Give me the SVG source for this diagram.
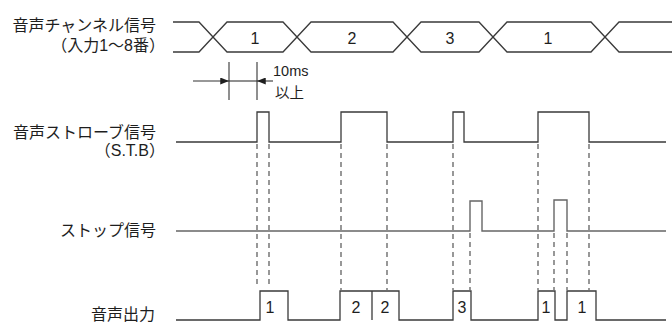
<svg xmlns="http://www.w3.org/2000/svg" width="672" height="324" viewBox="0 0 672 324">
<style>
  .lbl { font-family: "Liberation Sans", "Noto Sans CJK JP", sans-serif; font-size: 16px; fill: #1e1e1e; text-anchor: end; }
  .num { font-family: "Liberation Sans", "Noto Sans CJK JP", sans-serif; font-size: 16px; fill: #1e1e1e; text-anchor: middle; }
  .dim { font-family: "Liberation Sans", "Noto Sans CJK JP", sans-serif; font-size: 14.5px; fill: #1e1e1e; }
  .sig { fill: none; stroke: #3a3a3a; stroke-width: 1.3; }
  .stop { fill: none; stroke: #666; stroke-width: 1.4; }
  .dash { fill: none; stroke: #444; stroke-width: 1.1; stroke-dasharray: 5 4; }
  .thin { fill: none; stroke: #333; stroke-width: 1.1; }
</style>
<defs>
  <marker id="ah" viewBox="0 0 10 8" refX="10" refY="4" markerWidth="10" markerHeight="7" markerUnits="userSpaceOnUse" orient="auto">
    <path d="M0,0 L10,4 L0,8 Z" fill="#1e1e1e"/>
  </marker>
</defs>

<g id="label-channel">
  <text class="lbl" x="156" y="31">音声チャンネル信号</text>
  <text class="lbl" x="165" y="51">（入力1～8番）</text>
</g>
<g id="label-strobe">
  <text class="lbl" x="156" y="138">音声ストローブ信号</text>
  <text class="lbl" x="165" y="156">（S.T.B）</text>
</g>
<g id="label-stop">
  <text class="lbl" x="156" y="236">ストップ信号</text>
</g>
<g id="label-output">
  <text class="lbl" x="155" y="320">音声出力</text>
</g>

<g id="channel-signal">
  <polyline class="sig" points="173,22 199,22 227,52 283,52 311,22 393,22 421,52 479,52 507,22 591,22 619,52 672,52"/>
  <polyline class="sig" points="173,52 199,52 227,22 283,22 311,52 393,52 421,22 479,22 507,52 591,52 619,22 672,22"/>
  <text class="num" x="255" y="44">1</text>
  <text class="num" x="352" y="44">2</text>
  <text class="num" x="450" y="44">3</text>
  <text class="num" x="548" y="44">1</text>
</g>

<g id="dimension-10ms">
  <line class="thin" x1="229" y1="62" x2="229" y2="100"/>
  <line class="thin" x1="257" y1="62" x2="257" y2="100"/>
  <line class="thin" x1="193" y1="81" x2="229" y2="81" marker-end="url(#ah)"/>
  <line class="thin" x1="229" y1="81" x2="257" y2="81"/>
  <line class="thin" x1="273" y1="81" x2="257" y2="81" marker-end="url(#ah)"/>
  <text class="dim" x="273" y="76">10ms</text>
  <text class="dim" x="275" y="98">以上</text>
</g>

<g id="strobe-signal">
  <path class="sig" d="M176,142 H257 V112 H269 V142 H341 V112 H387 V142 H453 V112 H464 V142 H538 V112 H589 V142 H666"/>
</g>

<g id="stop-signal">
  <path class="stop" d="M176,231 H470 V201 H482 V231 H554 V200 H567 V231 H666"/>
</g>

<g id="audio-output">
  <path class="sig" d="M176,320 H260 V291 H288 V320 H340 V291 H399 V320 H453 V291 H471 V320 H538 V291 H555 V320 H567 V291 H596 V320 H666"/>
  <line class="sig" x1="372" y1="291" x2="372" y2="320"/>
  <text class="num" x="270" y="313">1</text>
  <text class="num" x="356" y="313">2</text>
  <text class="num" x="385" y="313">2</text>
  <text class="num" x="462" y="313">3</text>
  <text class="num" x="546" y="313">1</text>
  <text class="num" x="582" y="313">1</text>
</g>

<g id="connectors">
  <line class="dash" x1="257" y1="144" x2="257" y2="287"/>
  <line class="dash" x1="269" y1="144" x2="269" y2="287"/>
  <line class="dash" x1="341" y1="144" x2="341" y2="290"/>
  <line class="dash" x1="387" y1="144" x2="387" y2="290"/>
  <line class="dash" x1="453" y1="144" x2="453" y2="290"/>
  <line class="dash" x1="538" y1="144" x2="538" y2="290"/>
  <line class="dash" x1="589" y1="144" x2="589" y2="290"/>
  <line class="dash" x1="470" y1="233" x2="470" y2="290"/>
  <line class="dash" x1="554" y1="233" x2="554" y2="290"/>
  <line class="dash" x1="567" y1="233" x2="567" y2="290"/>
</g>
</svg>
